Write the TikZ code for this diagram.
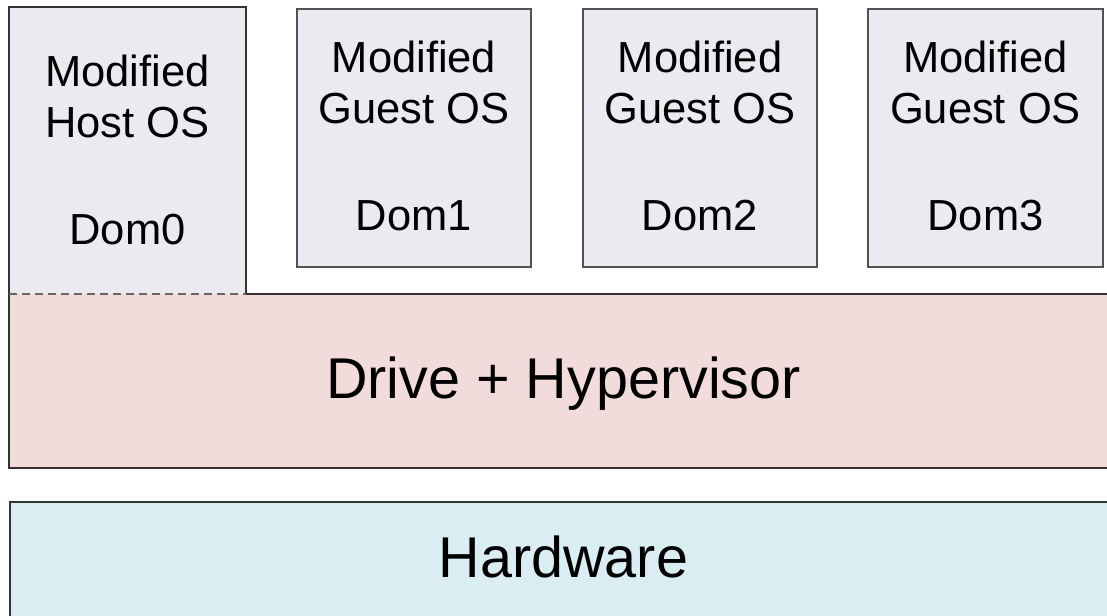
\documentclass[tikz,border=0pt]{standalone}
\usepackage{fontspec}
\setmainfont{Liberation Sans}
\definecolor{domfill}{HTML}{ECE9F0}
\definecolor{hypfill}{HTML}{F2DCDB}
\definecolor{hwfill}{HTML}{DAEDF3}
\definecolor{edge}{HTML}{333333}
\tikzset{
  plain/.style={inner sep=0pt, outer sep=0pt, anchor=north west},
  dombox/.style={plain, draw=edge!85, line width=2.2pt, fill=domfill},
  layer/.style={plain, fill=#1},
  small/.style={inner sep=0pt, anchor=base, font=\fontsize{43.5}{52}\selectfont},
  big/.style={inner sep=0pt, anchor=base, font=\fontsize{57.5}{68}\selectfont},
}
\begin{document}
\begin{tikzpicture}[x=1pt,y=-1pt]
\useasboundingbox (0,0) rectangle (1107,615);

% host domain and hypervisor share one outline
\node[layer=domfill, minimum width=237, minimum height=287] (dom0) at (9,7) {};
\node[layer=hypfill, minimum width=1115, minimum height=174] (hyp) at (9,294) {};
\draw[edge, line width=2.6pt, line join=miter]
  (dom0.north west) -- (dom0.north east) -- (dom0.south east) -- (hyp.north east)
  -- (hyp.south east) -- (hyp.south west) -- cycle;
\draw[edge!75, line width=2pt, dash pattern=on 8pt off 5pt]
  (dom0.south west) -- (dom0.south east);

% guest domains
\node[dombox, minimum width=234, minimum height=258] (dom1) at (297,9) {};
\node[dombox, minimum width=234, minimum height=258] (dom2) at (583,9) {};
\node[dombox, minimum width=235, minimum height=258] (dom3) at (868,9) {};

% hardware layer
\node[layer=hwfill, draw=edge, line width=2.6pt, minimum width=1115, minimum height=130] (hw) at (10,502) {};

% labels
\node[small] (h1) at (127.5,87) {Modified};
\node[small] (h2) at (127.5,137) {Host OS};
\node[small] (h3) at (127.5,244) {Dom0};

\node[small] (g11) at (414,73) {Modified};
\node[small] (g12) at (414,124) {Guest OS};
\node[small] (g13) at (414,230) {Dom1};

\node[small] (g21) at (700,73) {Modified};
\node[small] (g22) at (700,124) {Guest OS};
\node[small] (g23) at (700,230) {Dom2};

\node[small] (g31) at (985.5,73) {Modified};
\node[small] (g32) at (985.5,124) {Guest OS};
\node[small] (g33) at (985.5,230) {Dom3};

\node[big] (hyplabel) at (563.5,398) {Drive + Hypervisor};
\node[big] (hwlabel) at (563.5,577) {Hardware};
\end{tikzpicture}
\end{document}
